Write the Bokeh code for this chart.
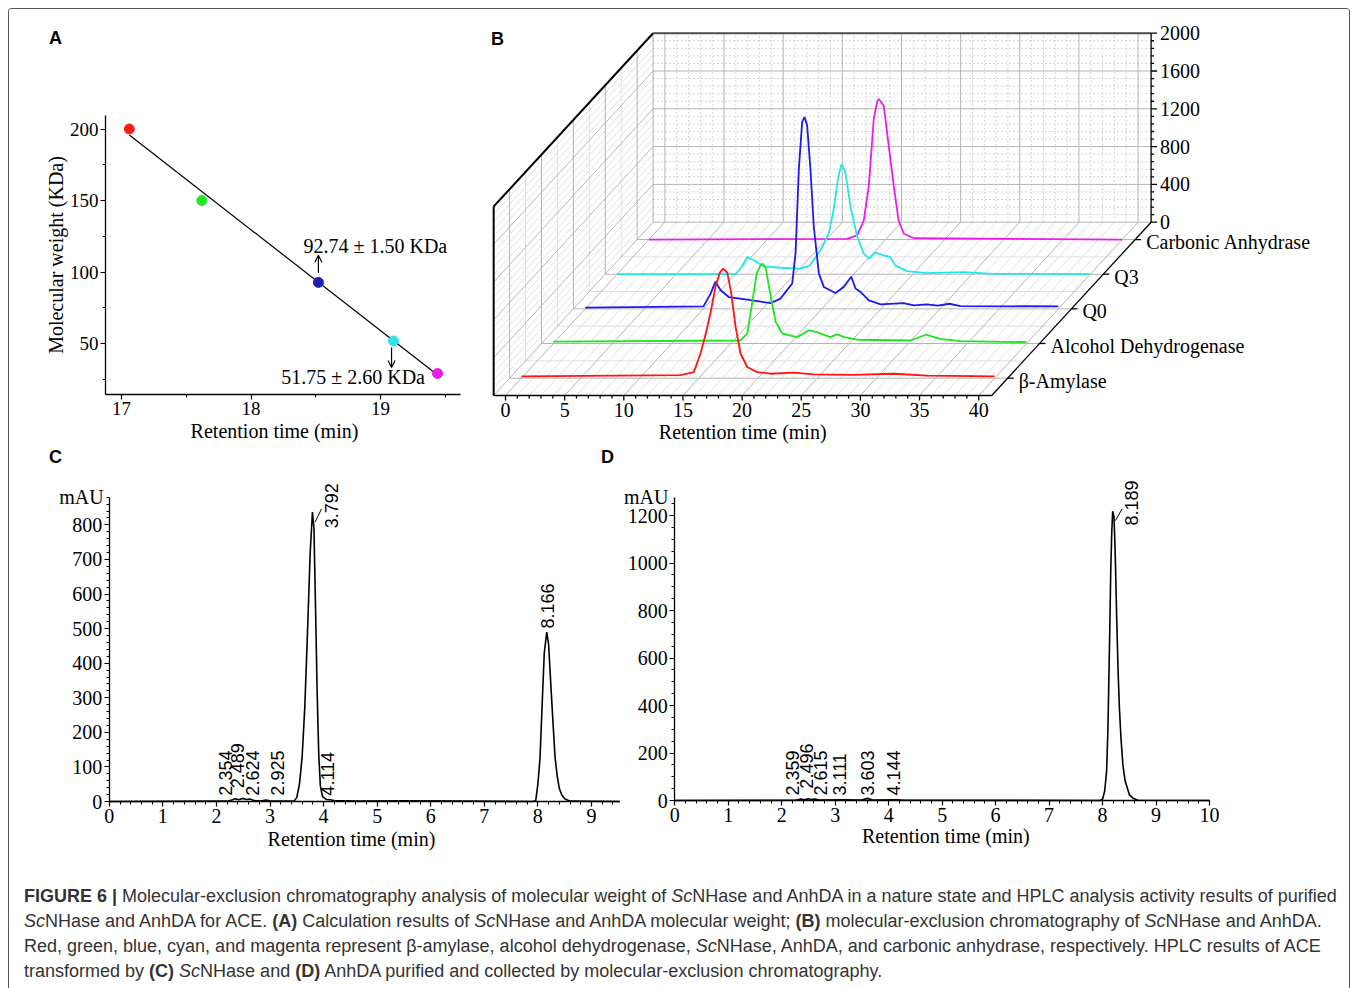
import numpy as np
from bokeh.plotting import figure
from bokeh.models import Arrow, OpenHead, Div, FixedTicker, Range1d
from bokeh.layouts import column, row
from bokeh.embed import file_html
from bokeh.resources import INLINE
from bokeh.core.properties import value

SERIF = "Liberation Serif"
SANS = "Liberation Sans"

# ---------------- Panel A data ----------------
a_rt = [17.06, 17.62, 18.52, 19.10, 19.44]
a_mw = [200.0, 150.0, 92.74, 51.75, 29.0]
a_colors = ["#ff1a1a", "#22e622", "#1e1eb4", "#33e0e6", "#e61ee6"]
a_fit_rt = [17.06, 19.45]
a_fit_mw = [195.8, 27.3]
a_notes = ["92.74 ± 1.50 KDa", "51.75 ± 2.60 KDa"]

# ---------------- Panel B data ----------------
b_names = ["β-Amylase", "Alcohol Dehydrogenase", "Q0", "Q3", "Carbonic Anhydrase"]
b_colors = ["#ff1414", "#1ee61e", "#1a1af0", "#22e8e8", "#f01af0"]
b_depth = [0.1, 0.3, 0.5, 0.7, 0.9]
b_red_t = [0, 13.45, 14.57, 15.14, 15.6, 15.98, 16.41, 16.77, 17.06, 17.4, 17.73, 18.1, 18.52, 19.09, 19.93,
           21.06, 23.03, 24.7, 28.0, 31.5, 34.3, 40.0]
b_red_z = [18, 32, 64, 261, 480, 689, 974, 1117, 1159, 1117, 903, 546, 261, 118, 64, 47, 58, 40, 35, 47, 26, 18]
b_green_t = [0, 15.8, 16.4, 16.8, 17.2, 17.54, 17.68, 17.96, 18.33, 18.8, 19.37, 20.6, 21.6, 22.3, 23.4, 24.0,
             24.6, 25.7, 30.2, 31.5, 32.7, 34.4, 40.0]
b_green_z = [21, 32, 104, 425, 745, 834, 845, 799, 531, 228, 104, 67, 139, 121, 67, 96, 67, 40, 32, 93, 50, 25, 14]
b_blue_t = [0, 10.0, 10.6, 11.0, 11.45, 12.14, 13.7, 15.67, 16.5, 17.5, 17.78, 18.06, 18.34, 18.54, 18.76, 19.04,
            19.32, 19.75, 20.17, 21.16, 21.86, 22.49, 22.85, 23.27, 23.98, 24.97, 26.9, 27.8, 28.9, 29.8, 30.8,
            31.7, 40.0]
b_blue_z = [12, 26, 161, 286, 197, 125, 97, 61, 108, 268, 589, 1480, 1979, 2029, 1943, 1480, 874, 375, 232, 168,
            232, 339, 215, 179, 90, 47, 61, 36, 47, 33, 54, 29, 26]
b_cyan_t = [0, 10.0, 10.43, 11.0, 11.56, 12.4, 13.8, 15.5, 16.3, 17.2, 17.9, 18.3, 18.66, 18.94, 19.03, 19.3,
            19.73, 20.3, 20.85, 21.3, 21.84, 22.5, 23.1, 23.5, 24.5, 26.2, 29.3, 31.8, 40.0]
b_cyan_z = [0, 0, 58, 182, 147, 82, 68, 58, 93, 253, 432, 681, 1002, 1152, 1159, 1074, 717, 396, 218, 165, 229,
            200, 182, 93, 32, 11, 21, 4, 0]
b_mag_t = [0, 16.75, 17.6, 18.16, 18.58, 19.0, 19.3, 19.43, 19.85, 20.27, 20.7, 21.1, 21.55, 22.4, 40.0]
b_mag_z = [0, 7, 43, 203, 560, 1273, 1468, 1487, 1415, 987, 560, 203, 61, 14, 0]
b_series_t = [b_red_t, b_green_t, b_blue_t, b_cyan_t, b_mag_t]
b_series_z = [b_red_z, b_green_z, b_blue_z, b_cyan_z, b_mag_z]
b_time_ticks = list(range(0, 41, 5))
b_z_ticks = list(range(0, 2001, 400))

# ---------------- Panel C data ----------------
c_t = [0.0, 2.20, 2.30, 2.354, 2.42, 2.489, 2.56, 2.624, 2.70, 2.85, 2.925, 3.00, 3.45, 3.50, 3.55, 3.60, 3.65,
       3.70, 3.75, 3.792, 3.82, 3.85, 3.88, 3.91, 3.94, 3.98, 4.05, 4.114, 4.20, 4.60, 5.60, 7.90, 7.96, 8.00,
       8.04, 8.08, 8.12, 8.166, 8.20, 8.245, 8.28, 8.32, 8.36, 8.40, 8.45, 8.50, 8.60, 9.53]
c_mau = [0, 1, 5, 8, 5, 9, 6, 7, 3, 2, 4, 2, 1, 12, 50, 130, 275, 490, 720, 837, 790, 560, 315, 135, 45, 14, 6,
         5, 3, 1, 2, 0, 2, 50, 125, 280, 430, 490, 455, 330, 235, 130, 75, 38, 18, 8, 1, 0]
c_peak_text = ["2.354", "2.489", "2.624", "2.925", "3.792", "4.114", "8.166"]
c_label_x = [2.164, 2.393, 2.677, 3.142, 4.14, 4.069, 8.175]
c_label_y = [17, 38, 17, 17, 790, 17, 500]

# ---------------- Panel D data ----------------
d_t = [0.0, 2.25, 2.359, 2.42, 2.496, 2.55, 2.615, 2.70, 3.111, 3.50, 3.603, 3.70, 4.144, 4.30, 7.95, 8.00, 8.04,
       8.076, 8.10, 8.115, 8.135, 8.153, 8.172, 8.189, 8.214, 8.23, 8.244, 8.265, 8.29, 8.315, 8.343, 8.38, 8.42,
       8.50, 8.58, 8.66, 10.0]
d_mau = [0, 1, 6, 3, 7, 4, 6, 2, 3, 2, 9, 2, 3, 1, 0, 5, 40, 126, 300, 477, 720, 968, 1130, 1218, 1193, 1090,
         968, 760, 547, 390, 267, 150, 84, 25, 8, 1, 0]
d_peak_text = ["2.359", "2.496", "2.615", "3.111", "3.603", "4.144", "8.189"]
d_label_x = [2.198, 2.465, 2.732, 3.077, 3.609, 4.092, 8.534]
d_label_y = [21, 50, 21, 21, 21, 21, 1158]

caption_lines = [
    "<b>FIGURE 6 |</b> Molecular-exclusion chromatography analysis of molecular weight of <i>Sc</i>NHase and AnhDA in a nature state and HPLC analysis activity results of purified",
    "<i>Sc</i>NHase and AnhDA for ACE. <b>(A)</b> Calculation results of <i>Sc</i>NHase and AnhDA molecular weight; <b>(B)</b> molecular-exclusion chromatography of <i>Sc</i>NHase and AnhDA.",
    "Red, green, blue, cyan, and magenta represent β-amylase, alcohol dehydrogenase, <i>Sc</i>NHase, AnhDA, and carbonic anhydrase, respectively. HPLC results of ACE",
    "transformed by <b>(C)</b> <i>Sc</i>NHase and <b>(D)</b> AnhDA purified and collected by molecular-exclusion chromatography.",
]


def style_axes(p, tick_size):
    for ax in p.axis:
        ax.major_label_text_font = SERIF
        ax.major_label_text_font_size = tick_size
        ax.major_label_text_color = "black"
        ax.axis_label_text_font = SERIF
        ax.axis_label_text_font_size = "20px"
        ax.axis_label_text_font_style = "normal"
        ax.axis_label_text_color = "black"
        ax.major_tick_in = 0
        ax.major_tick_out = 5
        ax.minor_tick_in = 0
        ax.minor_tick_out = 3
        ax.axis_line_width = 1.3
        ax.major_tick_line_width = 1.2
        ax.axis_line_color = "black"
        ax.major_tick_line_color = "black"
        ax.minor_tick_line_color = "black"
        ax.major_label_standoff = 2
        ax.axis_label_standoff = 0
    p.grid.visible = False
    p.outline_line_color = None


def letter(p, x, y, t):
    p.text(x=[x], y=[y], text=[t], text_font=value(SANS), text_font_style="bold", text_font_size="18px",
           text_align="center", text_baseline="middle", text_color="black")


def title_text(p, x, y, t):
    p.text(x=[x], y=[y], text=[t], text_font=value(SERIF), text_font_size="20px",
           text_align="center", text_baseline="middle", text_color="black")


# ================= Panel A =================
pA = figure(width=471, height=436, x_range=Range1d(16.1347, 19.7718), y_range=Range1d(-21.32, 283.58),
            output_backend="svg", toolbar_location=None, min_border=0)
style_axes(pA, "19px")
pA.xaxis.fixed_location = 14.34
pA.xaxis.bounds = (16.876, 19.618)
pA.yaxis.fixed_location = 16.876
pA.yaxis.bounds = (14.34, 209.4)
pA.xaxis.ticker = FixedTicker(ticks=[17, 18, 19], minor_ticks=[17.5, 18.5, 19.5])
pA.yaxis.ticker = FixedTicker(ticks=[50, 100, 150, 200], minor_ticks=[25, 75, 125, 175])
pA.yaxis.axis_label = "Molecular weight (KDa)"
title_text(pA, 18.181, -11.5, "Retention time (min)")
pA.line(a_fit_rt, a_fit_mw, line_color="black", line_width=1.2)
pA.scatter(a_rt, a_mw, size=10, fill_color=a_colors, line_color=a_colors)
pA.add_layout(Arrow(end=OpenHead(size=7, line_width=1.2), x_start=a_rt[2], y_start=a_mw[2] + 6.5,
                    x_end=a_rt[2], y_end=a_mw[2] + 19, line_width=1.2))
pA.add_layout(Arrow(end=OpenHead(size=7, line_width=1.2), x_start=a_rt[3] - 0.015, y_start=a_mw[3] - 4.5,
                    x_end=a_rt[3] - 0.015, y_end=a_mw[3] - 18.5, line_width=1.2))
pA.text(x=[a_rt[2] - 0.115, a_rt[3] - 0.867], y=[a_mw[2] + 25.8, a_mw[3] - 25.3], text=a_notes,
        text_font=value(SERIF), text_font_size="20px", text_align="left", text_baseline="middle",
        text_color="black")
letter(pA, 16.49, 263.3, "A")

# ================= Panel B (pseudo-3D) =================
PXM, PXU = 11.83, 0.0945           # pixels per minute / per intensity unit
DX, DZ = 159.4 / PXM, 173.3 / PXU  # projection of full depth
T0, T1, Z1 = -1.0, 41.1, 2000.0
WB, HB = 869, 436
bx0, by0 = -25 / PXM, -50 / PXU
pB = figure(width=WB, height=HB, x_range=Range1d(bx0, bx0 + WB / PXM), y_range=Range1d(by0, by0 + HB / PXU),
            x_axis_type=None, y_axis_type=None, min_border=0, output_backend="svg", toolbar_location=None)
pB.outline_line_color = None


def proj(t, z, d):
    return np.asarray(t, float) + DX * d, np.asarray(z, float) + DZ * d


def seg(store, a, b):
    x0, y0 = proj(*a)
    x1, y1 = proj(*b)
    store[0].append([float(x0), float(x1)])
    store[1].append([float(y0), float(y1)])


major, minor, dotted = ([], []), ([], []), ([], [])
t_major = b_time_ticks
t_minor = [t for t in range(0, 41) if t % 5]
z_major = [z for z in b_z_ticks if z > 0]
z_minor = [z for z in range(80, 2000, 80) if z % 400]
d_minor = [0.2, 0.4, 0.6, 0.8]
# back wall
for t in t_major:
    seg(major, (t, 0, 1), (t, Z1, 1))
for t in t_minor:
    seg(dotted, (t, 0, 1), (t, Z1, 1))
for z in z_major:
    seg(major, (T0, z, 1), (T1, z, 1))
for z in z_minor:
    seg(dotted, (T0, z, 1), (T1, z, 1))
# floor
for t in t_major:
    seg(major, (t, 0, 0), (t, 0, 1))
for t in t_minor:
    seg(minor, (t, 0, 0), (t, 0, 1))
for d in b_depth:
    seg(major, (T0, 0, d), (T1, 0, d))
for d in d_minor:
    seg(minor, (T0, 0, d), (T1, 0, d))
# left wall
for d in b_depth:
    seg(major, (T0, 0, d), (T0, Z1, d))
for d in d_minor:
    seg(minor, (T0, 0, d), (T0, Z1, d))
for z in z_major:
    seg(major, (T0, z, 0), (T0, z, 1))
for z in z_minor:
    seg(minor, (T0, z, 0), (T0, z, 1))
# grey box edges
seg(major, (T0, 0, 0), (T0, 0, 1))
seg(major, (T0, 0, 1), (T1, 0, 1))
seg(major, (T0, 0, 1), (T0, Z1, 1))

pB.multi_line(minor[0], minor[1], line_color="#e0e0e0", line_width=1)
pB.multi_line(dotted[0], dotted[1], line_color="#d2d2d2", line_width=1, line_dash="2 2")
pB.multi_line(major[0], major[1], line_color="#b4b4b4", line_width=1)

# series, back to front
for i in reversed(range(5)):
    x, y = proj(b_series_t[i], b_series_z[i], b_depth[i])
    pB.line(x, y, line_color=b_colors[i], line_width=1.8)

# dark edges / axes
dark = ([], [])
seg(dark, (T0, 0, 0), (T0, Z1, 0))
seg(dark, (T0, Z1, 0), (T0, Z1, 1))
pB.multi_line(dark[0], dark[1], line_color="black", line_width=2)
top = ([], [])
seg(top, (T0, Z1, 1), (T1, Z1, 1))
pB.multi_line(top[0], top[1], line_color="#505050", line_width=2)
axes = ([], [])
seg(axes, (T0, 0, 0), (T1, 0, 0))
seg(axes, (T1, 0, 0), (T1, 0, 1))
seg(axes, (T1, 0, 1), (T1, Z1, 1))
for t in t_major:
    seg(axes, (t, 0, 0), (t, -5 / PXU, 0))
for t in t_minor:
    seg(axes, (t, 0, 0), (t, -3 / PXU, 0))
for z in b_z_ticks:
    seg(axes, (T1, z, 1), (T1 + 6 / PXM, z, 1))
for z in range(80, 2000, 80):
    if z % 400:
        seg(axes, (T1, z, 1), (T1 + 3 / PXM, z, 1))
for d in b_depth:
    seg(axes, (T1, 0, d), (T1 + 6 / PXM, 0, d))
pB.multi_line(axes[0], axes[1], line_color="black", line_width=1.3)

# texts
tx, ty = proj(b_time_ticks, [-14 / PXU] * len(b_time_ticks), 0)
pB.text(x=tx, y=ty, text=[str(t) for t in b_time_ticks], text_font=value(SERIF), text_font_size="20px",
        text_align="center", text_baseline="middle", text_color="black")
zx, zy = proj([T1 + 9 / PXM] * len(b_z_ticks), b_z_ticks, 1)
pB.text(x=zx, y=zy, text=[str(z) for z in b_z_ticks], text_font=value(SERIF), text_font_size="20px",
        text_align="left", text_baseline="middle", text_color="black")
nx, ny = proj([T1 + 11 / PXM] * 5, [-25] * 5, np.array(b_depth))
pB.text(x=nx, y=ny, text=b_names, text_font=value(SERIF), text_font_size="20px",
        text_align="left", text_baseline="middle", text_color="black")
lx, ly = proj([(T0 + T1) / 2], [-36 / PXU], 0)
pB.text(x=lx, y=ly, text=["Retention time (min)"], text_font=value(SERIF), text_font_size="20px",
        text_align="center", text_baseline="middle", text_color="black")
letter(pB, -8 / PXM, 357 / PXU, "B")


# ================= Panels C and D =================
def chrom(width, xr, yr, xmax, ymax, ymaj, yminor_step, t, mau, texts, lxs, lys, lead):
    p = figure(width=width, height=415, x_range=Range1d(*xr), y_range=Range1d(*yr),
               output_backend="svg", toolbar_location=None, min_border=0)
    style_axes(p, "20px")
    p.xaxis.fixed_location = 0
    p.yaxis.fixed_location = 0
    p.xaxis.bounds = (0, xmax)
    p.yaxis.bounds = (0, ymax)
    p.xaxis.ticker = FixedTicker(ticks=list(range(0, int(xmax) + 1)),
                                 minor_ticks=[i * 0.2 for i in range(int(xmax / 0.2) + 1)])
    p.yaxis.ticker = FixedTicker(ticks=list(range(0, int(ymax) + 1, ymaj)),
                                 minor_ticks=list(range(0, int(ymax) + 1, yminor_step)))
    p.line(t, mau, line_color="black", line_width=1.6)
    p.segment(x0=[lead[0]], y0=[lead[1]], x1=[lead[2]], y1=[lead[3]], line_color="black", line_width=1)
    p.text(x=lxs, y=lys, text=texts, angle=np.pi / 2, text_font=value(SANS), text_font_size="18px",
           text_align="left", text_baseline="middle", text_color="black")
    return p


pC = chrom(613, (-1.863, 9.580), (-170.6, 1029.5), 9.53, 880, 100, 20, c_t, c_mau, c_peak_text, c_label_x,
           c_label_y, (3.842, 808, 3.961, 846))
title_text(pC, 4.521, -107, "Retention time (min)")
pC.text(x=[-0.105], y=[880], text=["mAU"], text_font=value(SERIF), text_font_size="20px",
        text_align="right", text_baseline="middle", text_color="black")
letter(pC, -1.004, 995, "C")
letter(pC, 9.30, 995, "D")

pD = chrom(727, (-0.978, 12.618), (-252.6, 1494.8), 10.0, 1277, 200, 50, d_t, d_mau, d_peak_text, d_label_x,
           d_label_y, (8.242, 1179, 8.366, 1228))
title_text(pD, 5.07, -151, "Retention time (min)")
pD.text(x=[-0.118], y=[1277], text=["mAU"], text_font=value(SERIF), text_font_size="20px",
        text_align="right", text_baseline="middle", text_color="black")

# ================= Caption =================
html = ("<div style=\"font-family:'Liberation Sans',Arial,sans-serif;font-size:18px;line-height:25px;"
        "color:#333;padding:24px 0 0 15px;white-space:nowrap\">" + "<br>".join(caption_lines) + "</div>")
cap = Div(text=html, width=1340, height=128, margin=0)

layout = column(row(pA, pB), row(pC, pD), cap, margin=(8, 0, 0, 8),
                styles={"border-top": "1px solid #555", "border-left": "1px solid #555",
                        "border-right": "1px solid #555", "border-radius": "4px 4px 0 0"})

open("out.html", "w").write(file_html(layout, INLINE))
